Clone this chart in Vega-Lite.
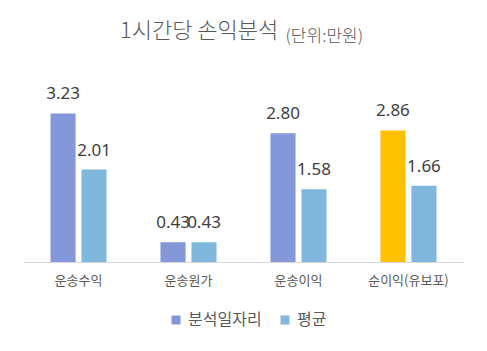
{
  "$schema": "https://vega.github.io/schema/vega-lite/v6.json",
  "width": 441,
  "height": 161,
  "autosize": {"type": "none"},
  "padding": {"left": 23, "top": 101, "right": 23, "bottom": 89},
  "background": "white",
  "title": {
    "text": "1시간당 손익분석",
    "anchor": "start",
    "dx": 97,
    "offset": -16,
    "fontSize": 22,
    "font": "Noto Sans CJK KR",
    "fontWeight": 300,
    "color": "#595959"
  },
  "data": {
    "values": [
      {"category": "운송수익", "series": "분석일자리", "value": 3.23},
      {"category": "운송수익", "series": "평균", "value": 2.01},
      {"category": "운송원가", "series": "분석일자리", "value": 0.43},
      {"category": "운송원가", "series": "평균", "value": 0.43},
      {"category": "운송이익", "series": "분석일자리", "value": 2.80},
      {"category": "운송이익", "series": "평균", "value": 1.58},
      {"category": "순이익(유보포)", "series": "분석일자리", "value": 2.86},
      {"category": "순이익(유보포)", "series": "평균", "value": 1.66}
    ]
  },
  "encoding": {
    "x": {
      "field": "category",
      "type": "nominal",
      "sort": ["운송수익", "운송원가", "운송이익", "순이익(유보포)"],
      "scale": {"paddingInner": 0.49, "paddingOuter": 0.25},
      "axis": {
        "title": null,
        "labelAngle": 0,
        "ticks": false,
        "labelPadding": 12,
        "labelFontSize": 13,
        "labelFont": "Noto Sans CJK KR",
        "labelColor": "#595959",
        "domainColor": "#D9D9D9",
        "domainWidth": 1,
        "grid": false
      }
    },
    "xOffset": {
      "field": "series",
      "type": "nominal",
      "sort": ["분석일자리", "평균"],
      "scale": {"paddingInner": 0.19, "paddingOuter": 0}
    },
    "y": {
      "field": "value",
      "type": "quantitative",
      "scale": {"domain": [0, 3.5]},
      "axis": {
        "title": "(단위:만원)",
        "titleAngle": 0,
        "titleX": 262,
        "titleY": -60,
        "titleAlign": "left",
        "titleBaseline": "alphabetic",
        "titleFontSize": 17,
        "titleFont": "Noto Sans CJK KR",
        "titleFontWeight": 300,
        "titleColor": "#595959",
        "labels": false,
        "ticks": false,
        "domain": false,
        "grid": false
      }
    }
  },
  "layer": [
    {
      "mark": {"type": "bar"},
      "encoding": {
        "color": {
          "condition": {
            "test": "datum.category === '순이익(유보포)' && datum.series === '분석일자리'",
            "value": "#FFC000"
          },
          "field": "series",
          "type": "nominal",
          "sort": ["분석일자리", "평균"],
          "scale": {"domain": ["분석일자리", "평균"], "range": ["#8497D9", "#7FB8DC"]},
          "legend": {
            "title": null,
            "orient": "none",
            "legendX": 145,
            "legendY": 211,
            "direction": "horizontal",
            "symbolType": "square",
            "symbolSize": 81,
            "symbolStrokeWidth": 0,
            "labelFontSize": 16,
            "labelFont": "Noto Sans CJK KR",
            "labelColor": "#595959",
            "labelOffset": 4,
            "columnPadding": 15
          }
        }
      }
    },
    {
      "mark": {
        "type": "text",
        "baseline": "alphabetic",
        "dy": -14,
        "fontSize": 17,
        "font": "Noto Sans",
        "color": "#404040"
      },
      "encoding": {
        "text": {"field": "value", "type": "quantitative", "format": ".2f"}
      }
    }
  ],
  "config": {"view": {"stroke": null}}
}
